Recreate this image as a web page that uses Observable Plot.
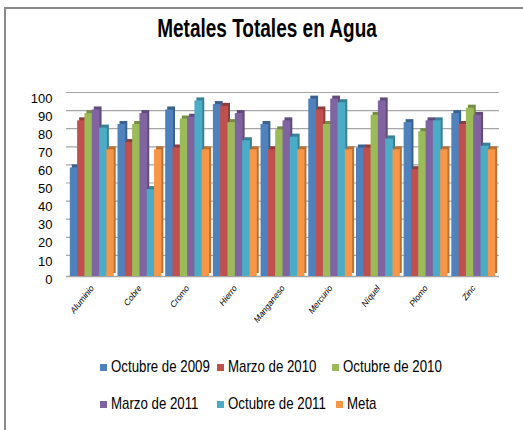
<!DOCTYPE html>
<html>
<head>
<meta charset="utf-8">
<script src="https://cdn.jsdelivr.net/npm/d3@7"></script>
<script src="https://cdn.jsdelivr.net/npm/@observablehq/plot@0.6"></script>
<style>
  html, body { margin: 0; padding: 0; background: #fff; width: 523px; height: 430px; overflow: hidden; }
  #frame { position: absolute; left: 4px; top: 7px; width: 600px; height: 600px; border: 2px solid #8a8a8a; box-sizing: border-box; }
  #title { position: absolute; left: 0; width: 534px; top: 14px; text-align: center; font: bold 25px "Liberation Sans", sans-serif; color: #000; transform: scaleX(0.76); transform-origin: 267px 0; }
  #chart { position: absolute; left: 0; top: 60px; }
  #legend { position: absolute; left: 100px; top: 357px; font: 17px "Liberation Sans", sans-serif; color: #000; }
  .item { position: absolute; white-space: nowrap; display: flex; align-items: center; }
  .sw { width: 7px; height: 7px; margin-right: 4px; }
  .lt { display: inline-block; transform: scaleX(0.78); transform-origin: 0 50%; }
</style>
</head>
<body>
<div id="frame"></div>
<div id="title">Metales Totales en Agua</div>
<div id="chart"></div>
<div id="legend"></div>
<script>
const metales = ["Aluminio", "Cobre", "Cromo", "Hierro", "Manganeso", "Mercurio", "Níquel", "Plomo", "Zinc"];
const series = ["Octubre de 2009", "Marzo de 2010", "Octubre de 2010", "Marzo de 2011", "Octubre de 2011", "Meta"];
const colores = ["#4F81BD", "#C0504D", "#9BBB59", "#8064A2", "#4BACC6", "#F79646"];
const oct2009 = [60, 84, 92, 95, 84, 98, 71, 85, 90];
const mar2010 = [86, 74, 71, 94, 70, 92, 71, 59, 84];
const oct2010 = [90, 84, 87, 85, 81, 84, 89, 80, 93];
const mar2011 = [92, 90, 88, 90, 86, 98, 97, 86, 89];
const oct2011 = [82, 48, 97, 75, 77, 96, 76, 86, 72];
const meta    = [70, 70, 70, 70, 70, 70, 70, 70, 70];
const yTicks = [0, 10, 20, 30, 40, 50, 60, 70, 80, 90, 100];

const valores = [oct2009, mar2010, oct2010, mar2011, oct2011, meta];
const data = [];
series.forEach((s, i) => metales.forEach((m, j) => data.push({metal: m, serie: s, si: i, value: valores[i][j]})));

const W = 523, ML = 66, MR = 24, pad = 0.08;
const step = (W - ML - MR) / (metales.length + pad);
const bw = step * (1 - pad);
const w = bw / series.length;

const marks = [
  Plot.ruleY(yTicks.filter(t => t > 0), {stroke: "#a6a6a6", strokeWidth: 1.2, dy: -3}),
  Plot.ruleY([0], {stroke: "#a6a6a6", strokeWidth: 1.5})
];
series.forEach((s, i) => {
  const sub = data.filter(d => d.si === i);
  const opts = {x: "metal", y: "value", insetLeft: i * w, insetRight: Math.max(0, (series.length - 1 - i) * w - 0.5)};
  marks.push(Plot.barY(sub, {...opts, fill: d3.color(colores[i]).darker(0.8).formatHex(), dx: 2, dy: -3}));
  marks.push(Plot.barY(sub, {...opts, fill: colores[i]}));
});

const chart = Plot.plot({
  width: W,
  height: 300,
  marginTop: 35,
  marginBottom: 84,
  marginLeft: ML,
  marginRight: MR,
  style: {background: "transparent", fontFamily: "Liberation Sans, sans-serif"},
  x: {domain: metales, padding: pad, round: false, label: null},
  y: {domain: [0, 100], label: null},
  marks: [
    ...marks,
    Plot.axisY({ticks: yTicks, tickSize: 0, tickPadding: 14, fontSize: 13, dy: 3, label: null}),
    Plot.axisX({tickSize: 0, tickPadding: 10, tickRotate: -52, fontSize: 8.5, fontStyle: "italic", label: null})
  ]
});
document.getElementById("chart").appendChild(chart);

const legend = document.getElementById("legend");
const pos = [[0, 0], [117, 0], [232, 0], [0, 37], [117, 37], [236, 37]];
series.forEach((s, i) => {
  const it = document.createElement("div");
  it.className = "item";
  it.style.left = pos[i][0] + "px";
  it.style.top = pos[i][1] + "px";
  it.innerHTML = `<span class="sw" style="background:${colores[i]}"></span><span class="lt">${s}</span>`;
  legend.appendChild(it);
});
</script>
</body>
</html>
